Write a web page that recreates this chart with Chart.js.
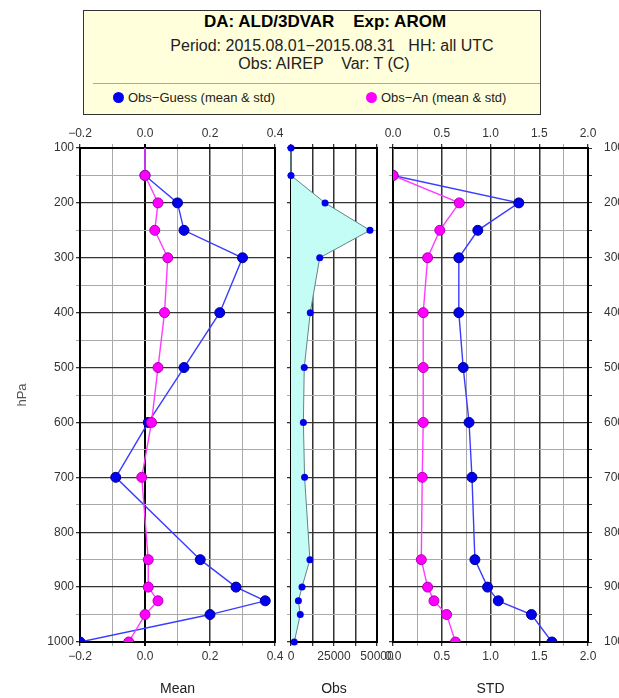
<!DOCTYPE html>
<html>
<head>
<meta charset="utf-8">
<script src="https://cdn.jsdelivr.net/npm/chart.js@4"></script>
<style>
  body { margin: 0; width: 619px; height: 698px; overflow: hidden; background: #fff; position: relative;
         font-family: "Liberation Sans", Arial, sans-serif; color: #222; }
  #box { position: absolute; left: 83px; top: 10px; width: 456px; height: 103px;
         border: 1.5px solid #333; background: #ffffdc; }
  #sep { position: absolute; left: 93px; top: 83px; width: 447px; height: 0; border-top: 1px solid #aaa; }
  .t { position: absolute; width: 400px; text-align: center; white-space: pre; line-height: 18px; }
  .leg { position: absolute; top: 90px; font-size: 13px; white-space: pre; }
  .dot { display: inline-block; width: 11px; height: 11px; border-radius: 50%; vertical-align: -1px; margin-right: 4px; }
  canvas { position: absolute; left: 0; top: 120px; }
</style>
</head>
<body>
<div id="box"></div>
<div id="sep"></div>
<div class="t" style="top:13px;left:125px;font-size:17px;font-weight:bold;color:#000">DA: ALD/3DVAR    Exp: AROM</div>
<div class="t" style="top:37px;left:132px;font-size:16px">Period: 2015.08.01−2015.08.31   HH: all UTC</div>
<div class="t" style="top:55px;left:124px;font-size:16px">Obs: AIREP    Var: T (C)</div>
<div class="leg" style="left:113px"><span class="dot" style="background:#0000ee"></span>Obs−Guess (mean &amp; std)</div>
<div class="leg" style="left:366px"><span class="dot" style="background:#ff00ff"></span>Obs−An (mean &amp; std)</div>

<canvas id="mean" width="619" height="578"></canvas>
<canvas id="obs" width="619" height="578"></canvas>
<canvas id="std" width="619" height="578"></canvas>

<script>
// pressure levels (hPa)
const levels = [100, 150, 200, 250, 300, 400, 500, 600, 700, 850, 900, 925, 950, 1000];

// Mean panel
const meanGuess = [0, 0, 0.10, 0.12, 0.30, 0.23, 0.12, 0.01, -0.09, 0.17, 0.28, 0.37, 0.20, -0.20];
const meanAn = [0, 0, 0.04, 0.03, 0.07, 0.06, 0.04, 0.02, -0.01, 0.01, 0.01, 0.04, 0.00, -0.05];

// Obs panel (number of observations)
const obsCount = [0, 0, 19800, 45900, 16700, 11200, 7700, 7200, 7900, 11000, 6400, 4300, 5400, 1900];

// STD panel
const stdGuess = [0, 0, 1.29, 0.87, 0.675, 0.675, 0.72, 0.78, 0.81, 0.84, 0.97, 1.08, 1.42, 1.63];
const stdAn = [0, 0, 0.68, 0.48, 0.355, 0.31, 0.31, 0.31, 0.30, 0.29, 0.355, 0.42, 0.55, 0.64];

// tick labels
const levelTicks = [100, 200, 300, 400, 500, 600, 700, 800, 900, 1000];
const meanTicks = [-0.2, 0.0, 0.2, 0.4];
const obsTicks = [0, 25000, 50000];
const obsGrid = [0, 12500, 25000, 37500, 50000];
const stdTicks = [0.0, 0.5, 1.0, 1.5, 2.0];

const FONT = { family: '"Liberation Sans", Arial, sans-serif', size: 12 };

function has(list, v) {
    return list.some(m => Math.abs(m - v) < 1e-6);
}

function toPoints(values) {
    return values.map((v, i) => ({ x: v, y: levels[i] }));
}

// force axis size so the chart areas line up between the three canvases
function fixSize(size) {
    return function (scale) {
        if (scale.isHorizontal()) scale.height = size; else scale.width = size;
        scale.paddingLeft = scale.paddingRight = scale.paddingTop = scale.paddingBottom = 0;
    };
}

function gridFor(majors, zeroBold) {
    return {
        color: c => (zeroBold && c.tick && Math.abs(c.tick.value) < 1e-9) ? '#000' :
            (c.tick && has(majors, c.tick.value) ? '#333' : '#aaa'),
        lineWidth: c => (zeroBold && c.tick && Math.abs(c.tick.value) < 1e-9) ? 2 :
            (c.tick && has(majors, c.tick.value) ? 1.3 : 1),
        tickLength: 4
    };
}

function fmtNum(digits) {
    return v => (digits === null ? String(v) : v.toFixed(digits)).replace('-', '\u2212');
}

function xAxis(pos, min, max, step, gridMajors, labels, digits, title, zeroBold) {
    return {
        type: 'linear', position: pos, min: min, max: max,
        border: { display: true, color: '#000', width: 2 },
        grid: gridFor(gridMajors, zeroBold),
        ticks: {
            display: labels.length > 0, stepSize: step, autoSkip: false, maxRotation: 0,
            color: '#333', font: FONT, padding: 3,
            callback: v => has(labels, v) ? fmtNum(digits)(v) : ''
        },
        title: title ? { display: true, text: title, color: '#222', font: { family: FONT.family, size: 14 }, padding: 0 } : { display: false },
        afterFit: fixSize(pos === 'top' ? 28 : 56)
    };
}

function yAxis(pos, showLabels, width, withGrid, title) {
    return {
        type: 'linear', position: pos, reverse: true, min: 100, max: 1000,
        border: { display: true, color: '#000', width: 2 },
        grid: withGrid ? gridFor(levelTicks, false) : { display: showLabels, drawOnChartArea: false, color: '#333', tickLength: 4 },
        ticks: {
            display: showLabels, stepSize: 50, autoSkip: false, color: '#333', font: FONT, padding: pos === 'left' ? 2 : 12,
            callback: v => has(levelTicks, v) ? String(v) : ''
        },
        title: title ? { display: true, text: title, color: '#555', font: { family: FONT.family, size: 13 }, padding: { top: 15, bottom: 0 } } : { display: false },
        afterFit: fixSize(width)
    };
}

function profile(values, fill, line, border, order) {
    return {
        data: toPoints(values),
        borderColor: line, borderWidth: 1.4,
        pointBackgroundColor: fill, pointBorderColor: border, pointBorderWidth: 1,
        pointRadius: c => c.dataIndex === 0 ? 0 : 5,
        clip: 0, order: order
    };
}

function baseOptions(padding, scales) {
    return {
        responsive: false, animation: false, indexAxis: 'y',
        layout: { padding: padding },
        plugins: { legend: { display: false }, tooltip: { enabled: false } },
        events: [],
        scales: scales
    };
}

// Mean
new Chart(document.getElementById('mean'), {
    type: 'line',
    data: { datasets: [
        profile(meanGuess, '#0000ee', '#3b3bff', '#00008a', 1),
        profile(meanAn, '#ff00ff', '#ff3cff', '#b000b0', 0)
    ] },
    options: baseOptions({ left: 0, right: 344, top: 0, bottom: 0 }, {
        x: xAxis('bottom', -0.2, 0.4, 0.1, meanTicks, meanTicks, 1, 'Mean', true),
        xTop: xAxis('top', -0.2, 0.4, 0.1, meanTicks, meanTicks, 1, null, true),
        y: yAxis('left', true, 80, true, 'hPa'),
        yR: yAxis('right', false, 0, false, null)
    })
});

// Obs
new Chart(document.getElementById('obs'), {
    type: 'line',
    data: { datasets: [{
        data: toPoints(obsCount),
        borderColor: '#5f8585', borderWidth: 1,
        backgroundColor: 'rgb(196, 252, 246)', fill: 'origin',
        pointBackgroundColor: '#0000ee', pointBorderColor: '#0000ee', pointBorderWidth: 0,
        pointRadius: 3.5, clip: false
    }] },
    options: baseOptions({ left: 291, right: 242, top: 0, bottom: 0 }, {
        x: xAxis('bottom', 0, 50000, 12500, obsGrid, obsTicks, null, 'Obs', false),
        xTop: xAxis('top', 0, 50000, 12500, obsGrid, [], null, null, false),
        y: yAxis('left', false, 0, true, null),
        yR: yAxis('right', false, 0, false, null)
    })
});

// STD
new Chart(document.getElementById('std'), {
    type: 'line',
    data: { datasets: [
        profile(stdGuess, '#0000ee', '#3b3bff', '#00008a', 1),
        profile(stdAn, '#ff00ff', '#ff3cff', '#b000b0', 0)
    ] },
    options: baseOptions({ left: 393, right: 0, top: 0, bottom: 0 }, {
        x: xAxis('bottom', 0, 2, 0.25, stdTicks, stdTicks, 1, 'STD', false),
        xTop: xAxis('top', 0, 2, 0.25, stdTicks, stdTicks, 1, null, false),
        y: yAxis('left', false, 0, true, null),
        yR: yAxis('right', true, 31, false, null)
    })
});
</script>
</body>
</html>
